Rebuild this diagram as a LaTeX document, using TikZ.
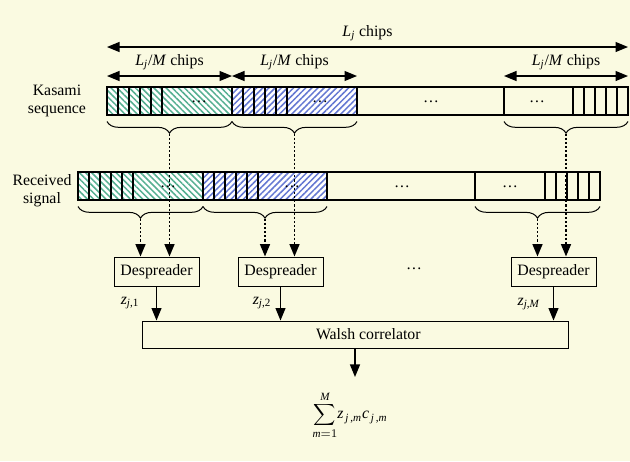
\documentclass[tikz,border=0pt]{standalone}
\usepackage{amsmath}
\usepackage{fontspec}
\setmainfont{Liberation Serif}
\usepackage{xcolor}
\usetikzlibrary{positioning,calc,patterns,patterns.meta,decorations.pathreplacing,arrows.meta}

\definecolor{bgyellow}{RGB}{250,250,225}
\definecolor{hatchgreen}{RGB}{85,175,145}
\definecolor{hatchblue}{RGB}{100,120,210}

\begin{document}
\begin{tikzpicture}[x=0.6pt, y=-0.6pt, font=\fontsize{9.5}{10.8}\selectfont,
    seg/.style={draw, line width=0.7pt, minimum height=16.8pt, inner sep=0pt, outer sep=0pt},
    greenseg/.style={seg, preaction={fill=white}, pattern={Lines[angle=-45, distance=2.6pt, line width=0.9pt]}, pattern color=hatchgreen},
    blueseg/.style={seg, preaction={fill=white}, pattern={Lines[angle=45, distance=2.6pt, line width=0.9pt]}, pattern color=hatchblue},
    box/.style={draw, line width=0.6pt, minimum height=17.4pt, inner sep=0pt},
    tick/.style={line width=1.1pt},
    arr/.style={-{Triangle[length=7.5pt,width=6pt]}, line width=0.7pt},
    dblarr/.style={{Triangle[length=7.5pt,width=6pt]}-{Triangle[length=7.5pt,width=6pt]}, line width=0.7pt},
    dotarr/.style={arr, dash pattern=on 1.3pt off 1.2pt, line width=1pt},
    curly/.style={decorate, decoration={brace, mirror, amplitude=7pt}, line width=0.6pt}]

    \path[fill=bgyellow, use as bounding box] (0,0) rectangle (630,461);

    % Kasami sequence
    \node [align=center] (kaslab) at (57,101) {Kasami\\sequence};
    \node [greenseg, minimum width=75pt, anchor=west] (k1) at (107,101) {};
    \node [blueseg, minimum width=75pt, right=0pt of k1] (k2) {};
    \node [seg, minimum width=88.2pt, right=0pt of k2] (k3) {};
    \node [seg, minimum width=74.4pt, right=0pt of k3] (k4) {};
    \foreach \i in {1,...,5} {
        \draw [tick] ($(k1.north west)+(11*\i,0)$) -- ($(k1.south west)+(11*\i,0)$);
        \draw [tick] ($(k2.north west)+(11*\i,0)$) -- ($(k2.south west)+(11*\i,0)$);
        \draw [tick] ($(k4.north east)+(-11*\i,0)$) -- ($(k4.south east)+(-11*\i,0)$);
    }
    \node (kd1) at (199,102) {\ldots};
    \node (kd2) at (320,102) {\ldots};
    \node (kd3) at (431,102) {\ldots};
    \node (kd4) at (537,102) {\ldots};

    % chip lengths
    \draw [dblarr] ($(k1.north west)+(0,-40)$) -- node[above] (ljlab) {\textit{L}\textsubscript{\textit{j}} chips} ($(k4.north east)+(0,-40)$);
    \draw [dblarr] ($(k1.north west)+(0,-11)$) -- node[above] (lm1) {\textit{L}\textsubscript{\textit{j}}/\textit{M} chips} ($(k1.north east)+(0,-11)$);
    \draw [dblarr] ($(k2.north west)+(0,-11)$) -- node[above] (lm2) {\textit{L}\textsubscript{\textit{j}}/\textit{M} chips} ($(k2.north east)+(0,-11)$);
    \draw [dblarr] ($(k4.north west)+(0,-11)$) -- node[above] (lm4) {\textit{L}\textsubscript{\textit{j}}/\textit{M} chips} ($(k4.north east)+(0,-11)$);

    % Received signal
    \node [align=center] (reclab) at (42,191) {Received\\signal};
    \node [greenseg, minimum width=75pt, anchor=west] (r1) at (78,186) {};
    \node [blueseg, minimum width=74.4pt, right=0pt of r1] (r2) {};
    \node [seg, minimum width=88.8pt, right=0pt of r2] (r3) {};
    \node [seg, minimum width=75pt, right=0pt of r3] (r4) {};
    \foreach \i in {1,...,5} {
        \draw [tick] ($(r1.north west)+(11*\i,0)$) -- ($(r1.south west)+(11*\i,0)$);
        \draw [tick] ($(r2.north west)+(11*\i,0)$) -- ($(r2.south west)+(11*\i,0)$);
        \draw [tick] ($(r4.north east)+(-11*\i,0)$) -- ($(r4.south east)+(-11*\i,0)$);
    }
    \node (rd1) at (168,187) {\ldots};
    \node (rd2) at (292,187) {\ldots};
    \node (rd3) at (402,187) {\ldots};
    \node (rd4) at (510,187) {\ldots};

    % braces
    \foreach \s in {k1,k2,k4,r1,r2,r4}
        \draw [curly] ($(\s.south west)+(0,6.5)$) -- ($(\s.south east)+(0,6.5)$);
    \coordinate (kt1) at ($(k1.south)+(0,18.5)$);
    \coordinate (kt2) at ($(k2.south)+(0,18.5)$);
    \coordinate (kt4) at ($(k4.south)+(0,18.5)$);
    \coordinate (rt1) at ($(r1.south)+(0,18.5)$);
    \coordinate (rt2) at ($(r2.south)+(0,18.5)$);
    \coordinate (rt4) at ($(r4.south)+(0,18.5)$);

    % despreaders
    \node [box, minimum width=51pt] (d1) at (156.5,271.5) {Despreader};
    \node [box, minimum width=51pt] (d2) at (280.5,271.5) {Despreader};
    \node [box, minimum width=51pt] (d3) at (553.5,271.5) {Despreader};
    \node (ddots) at (414,269) {\ldots};

    \draw [dotarr] (kt1) -- (kt1 |- d1.north);
    \draw [dotarr] (rt1) -- (rt1 |- d1.north);
    \draw [dotarr] (kt2) -- (kt2 |- d2.north);
    \draw [dotarr] (rt2) -- (rt2 |- d2.north);
    \draw [dotarr] (kt4) -- (kt4 |- d3.north);
    \draw [dotarr] (rt4) -- (rt4 |- d3.north);

    % Walsh correlator
    \node [box, minimum width=255.6pt, minimum height=16.2pt] (walsh) at (355,334.5) {\hspace*{16pt}Walsh correlator};
    \draw [arr] (d1) -- (d1 |- walsh.north);
    \draw [arr] (d2) -- (d2 |- walsh.north);
    \draw [arr] (d3) -- (d3 |- walsh.north);
    \node (z1) at (130,303) {\textit{z}\textsubscript{\textit{j},1}};
    \node (z2) at (262,303) {\textit{z}\textsubscript{\textit{j},2}};
    \node (zM) at (529,304) {\textit{z}\textsubscript{\textit{j},\textit{M}}};

    \node (sum) at (350,415) {$\displaystyle\sum_{\textit{m}=1}^{\textit{M}}$\textit{z}\textsubscript{\,\textit{j}\,,\textit{m}}\textit{c}\textsubscript{\,\textit{j}\,,\textit{m}}};
    \draw [arr, shorten >=5pt] (walsh.south) -- (walsh.south |- sum.north);

\end{tikzpicture}
\end{document}
